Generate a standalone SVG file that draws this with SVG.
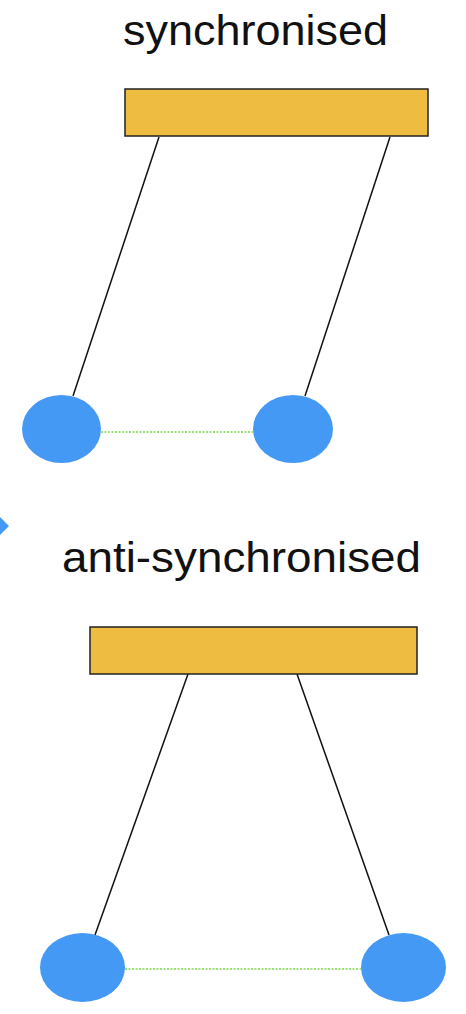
<svg xmlns="http://www.w3.org/2000/svg" width="466" height="1014" viewBox="0 0 466 1014">
<style>
.bar{fill:#EDBC40;stroke:#222;stroke-width:1.5}
.bob{fill:#4499F5}
.rod{stroke:#111;stroke-width:1.5;fill:none}
.link{stroke:#7CD64A;stroke-width:1.5;stroke-dasharray:2 1.5;fill:none}
.lbl{font-family:"Liberation Sans",Arial,sans-serif;font-size:43px;fill:#111}
</style>
<rect width="466" height="1014" fill="#fff"/>
<g id="connectors">
<line class="rod" x1="159" y1="137" x2="73" y2="396"/>
<line class="rod" x1="390" y1="137" x2="305" y2="396"/>
<line class="link" x1="101" y1="432" x2="253" y2="432"/>
<line class="rod" x1="188" y1="674" x2="95" y2="935"/>
<line class="rod" x1="297" y1="674" x2="389" y2="935"/>
<line class="link" x1="125" y1="969" x2="361" y2="969"/>
</g>
<g id="title-sync"><text class="lbl" x="123" y="45" textLength="265" lengthAdjust="spacingAndGlyphs">synchronised</text></g>
<g id="bar-sync"><rect class="bar" x="125" y="89" width="303" height="47"/></g>
<g id="bob-sync-left"><ellipse class="bob" cx="61.5" cy="429" rx="39.5" ry="34"/></g>
<g id="bob-sync-right"><ellipse class="bob" cx="293" cy="429" rx="40" ry="34"/></g>
<g id="arrow-edge"><polygon class="bob" points="0,517 9,526 0,535"/></g>
<g id="title-anti"><text class="lbl" x="62" y="572" textLength="359" lengthAdjust="spacingAndGlyphs">anti-synchronised</text></g>
<g id="bar-anti"><rect class="bar" x="90" y="627" width="327" height="47"/></g>
<g id="bob-anti-left"><ellipse class="bob" cx="82.5" cy="967.5" rx="42.5" ry="34.5"/></g>
<g id="bob-anti-right"><ellipse class="bob" cx="403.5" cy="967.5" rx="42.5" ry="34.5"/></g>
</svg>
